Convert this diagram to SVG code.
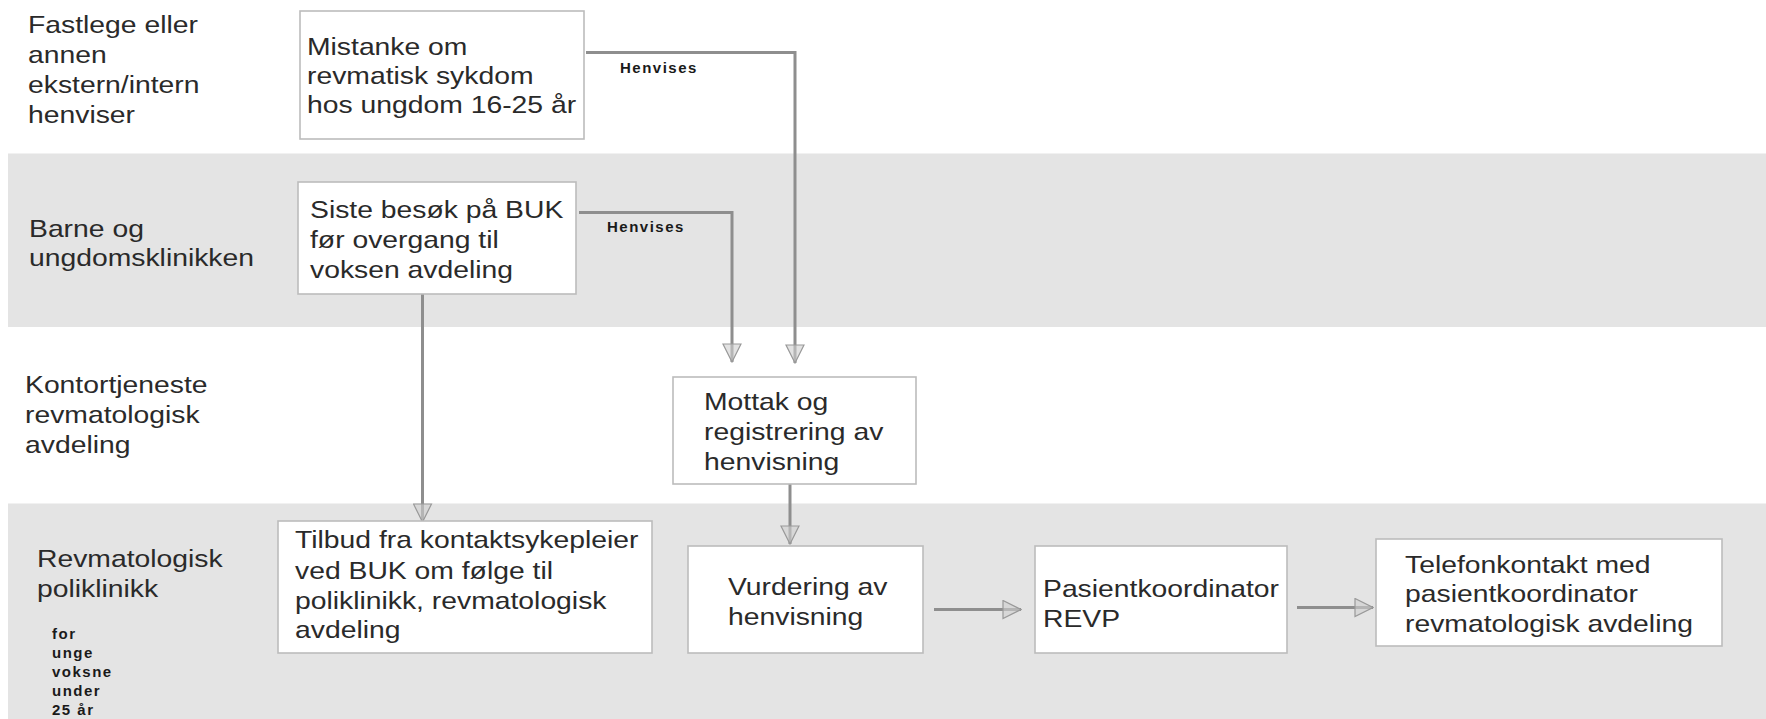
<svg xmlns="http://www.w3.org/2000/svg" width="1766" height="719" viewBox="0 0 1766 719">
<style>
.lane{fill:#e4e4e4}
.box{fill:#ffffff;stroke:#bcbcbc;stroke-width:1.6}
.t{font-family:"Liberation Sans",Arial,sans-serif;font-size:24px;fill:#2a2a2a}
.s{font-family:"Liberation Sans",Arial,sans-serif;font-size:15px;font-weight:bold;letter-spacing:1.5px;fill:#1a1a1a}
.c{fill:none;stroke:#8e8e8e;stroke-width:3;marker-end:url(#ah)}
</style>
<defs>
<marker id="ah" markerUnits="userSpaceOnUse" markerWidth="20" markerHeight="20" viewBox="0 0 20 20" refX="19" refY="10" orient="auto">
<path d="M1,1 L19,10 L1,19 Z" fill="#cfcfcf" fill-opacity="0.6" stroke="#999" stroke-width="1.2"/>
</marker>
</defs>
<rect width="1766" height="719" fill="#ffffff"/>
<g id="lanes">
<rect class="lane" x="8" y="153.5" width="1758" height="173.5"/>
<rect class="lane" x="8" y="503.5" width="1758" height="216"/>
</g>
<g id="lane-labels">
<text class="t" transform="translate(28,33) scale(1.18,1)"><tspan x="0" y="0">Fastlege eller</tspan><tspan x="0" y="30">annen</tspan><tspan x="0" y="60">ekstern/intern</tspan><tspan x="0" y="90">henviser</tspan></text>
<text class="t" transform="translate(29,237) scale(1.18,1)"><tspan x="0" y="0">Barne og</tspan><tspan x="0" y="29.5">ungdomsklinikken</tspan></text>
<text class="t" transform="translate(25,393) scale(1.18,1)"><tspan x="0" y="0">Kontortjeneste</tspan><tspan x="0" y="30">revmatologisk</tspan><tspan x="0" y="60">avdeling</tspan></text>
<text class="t" transform="translate(37,567) scale(1.18,1)"><tspan x="0" y="0">Revmatologisk</tspan><tspan x="0" y="30">poliklinikk</tspan></text>
<text class="s"><tspan x="52" y="639">for</tspan><tspan x="52" y="658">unge</tspan><tspan x="52" y="677">voksne</tspan><tspan x="52" y="696">under</tspan><tspan x="52" y="715">25 år</tspan></text>
</g>
<g id="connectors">
<path class="c" d="M586,52.5 H795 V363"/>
<path class="c" d="M579,212.5 H732 V362"/>
<path class="c" d="M422.5,288 V522"/>
<path class="c" d="M790,484 V544"/>
<path class="c" d="M934,609.5 H1021"/>
<path class="c" d="M1297,607.5 H1373"/>
<text class="s" x="620" y="73">Henvises</text>
<text class="s" x="607" y="232">Henvises</text>
</g>
<g id="n-mistanke">
<rect class="box" x="300" y="11" width="284" height="128"/>
<text class="t" transform="translate(307,55) scale(1.18,1)"><tspan x="0" y="0">Mistanke om</tspan><tspan x="0" y="29">revmatisk sykdom</tspan><tspan x="0" y="58">hos ungdom 16-25 år</tspan></text>
</g>
<g id="n-siste">
<rect class="box" x="298" y="182" width="278" height="112"/>
<text class="t" transform="translate(310,218) scale(1.18,1)"><tspan x="0" y="0">Siste besøk på BUK</tspan><tspan x="0" y="30">før overgang til</tspan><tspan x="0" y="60">voksen avdeling</tspan></text>
</g>
<g id="n-mottak">
<rect class="box" x="673" y="377" width="243" height="107"/>
<text class="t" transform="translate(704,410) scale(1.18,1)"><tspan x="0" y="0">Mottak og</tspan><tspan x="0" y="30">registrering av</tspan><tspan x="0" y="60">henvisning</tspan></text>
</g>
<g id="n-tilbud">
<rect class="box" x="278" y="521" width="374" height="132"/>
<text class="t" transform="translate(295,548) scale(1.18,1)"><tspan x="0" y="0">Tilbud fra kontaktsykepleier</tspan><tspan x="0" y="31">ved BUK om følge til</tspan><tspan x="0" y="61">poliklinikk, revmatologisk</tspan><tspan x="0" y="90">avdeling</tspan></text>
</g>
<g id="n-vurdering">
<rect class="box" x="688" y="546" width="235" height="107"/>
<text class="t" transform="translate(728,595) scale(1.18,1)"><tspan x="0" y="0">Vurdering av</tspan><tspan x="0" y="30">henvisning</tspan></text>
</g>
<g id="n-pasient">
<rect class="box" x="1035" y="546" width="252" height="107"/>
<text class="t" transform="translate(1043,597) scale(1.18,1)"><tspan x="0" y="0">Pasientkoordinator</tspan><tspan x="0" y="30">REVP</tspan></text>
</g>
<g id="n-telefon">
<rect class="box" x="1376" y="539" width="346" height="107"/>
<text class="t" transform="translate(1405,573) scale(1.18,1)"><tspan x="0" y="0">Telefonkontakt med</tspan><tspan x="0" y="29.5">pasientkoordinator</tspan><tspan x="0" y="59">revmatologisk avdeling</tspan></text>
</g>
</svg>
